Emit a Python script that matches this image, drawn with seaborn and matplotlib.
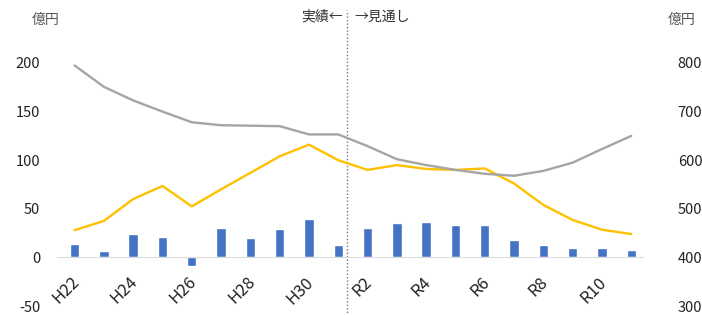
import numpy as np
import pandas as pd
import matplotlib
matplotlib.use("Agg")
import matplotlib.pyplot as plt
import matplotlib.transforms as mtrans
import seaborn as sns

# data
years = ["H22", "H23", "H24", "H25", "H26", "H27", "H28", "H29", "H30", "R1",
         "R2", "R3", "R4", "R5", "R6", "R7", "R8", "R9", "R10", "R11"]
bars = [14, 7, 24, 21.5, -8.5, 30, 20, 29, 39, 12.5,
        30, 35, 36.5, 33, 33, 18, 13, 10, 10, 7.5]
yellow = [28, 37.5, 60, 73.5, 52.5, 70, 87, 104, 116, 100,
          90, 95, 91, 90, 91.5, 76, 54, 38.5, 28.5, 24]
gray_right = [795, 751, 723, 700, 678, 672, 671, 670, 653, 653,
              629, 602, 590, 580, 572, 568, 578, 595, 623, 650]

df = pd.DataFrame({"year": years, "bar": bars, "yellow": yellow, "gray": gray_right})
df["pos"] = np.arange(len(years))

sns.set_style("white")
plt.rcParams["font.family"] = ["Noto Sans CJK JP", "DejaVu Sans"]
plt.rcParams["axes.unicode_minus"] = False

fig = plt.figure(figsize=(7.02, 3.15), dpi=100)
ax = fig.add_axes([57 / 702, 9 / 315, 586 / 702, 243 / 315])
ax2 = ax.twinx()

sns.barplot(data=df, x="year", y="bar", color="#4472C4", width=0.32,
            saturation=1, ax=ax, zorder=2)
sns.lineplot(data=df, x="pos", y="yellow", color="#FFC000", linewidth=1.7,
             sort=False, ax=ax, zorder=3)
sns.lineplot(data=df, x="pos", y="gray", color="#A5A5A5", linewidth=1.7,
             sort=False, ax=ax2, zorder=3)

ax.set_xlim(-0.6, 19.4)
ax.set_ylim(-50, 200)
ax2.set_ylim(300, 800)
ax.set_yticks([-50, 0, 50, 100, 150, 200])
ax2.set_yticks([300, 400, 500, 600, 700, 800])
ax.set_xticks(df["pos"][::2])
ax.set_xticklabels(years[::2])

for a in (ax, ax2):
    for s in a.spines.values():
        s.set_visible(False)
    a.set_xlabel("")
    a.set_ylabel("")
ax.spines["bottom"].set_visible(True)
ax.spines["bottom"].set_position(("data", 0))
ax.spines["bottom"].set_color("#DDDDDD")
ax.tick_params(axis="x", length=0, pad=16, labelsize=12, colors="#222222",
               labelrotation=45)
shift = mtrans.ScaledTranslation(0.02, 0, fig.dpi_scale_trans)
for lab in ax.get_xticklabels():
    lab.set_ha("right")
    lab.set_va("center")
    lab.set_rotation_mode("anchor")
    lab.set_transform(lab.get_transform() + shift)
ax.tick_params(axis="y", length=0, pad=12, labelsize=10.5, colors="#222222")
ax2.tick_params(axis="y", length=0, pad=25, labelsize=10.5, colors="#222222")

# actual / forecast divider
ax.axvline(9.3, ymin=-0.04, ymax=1.22, color="#777777", linestyle=(0, (1, 1.5)),
           linewidth=1, clip_on=False)
ax.text(9.15, 1.19, "実績←", transform=ax.get_xaxis_transform(), ha="right",
        va="center", fontsize=10, color="#333333")
ax.text(9.55, 1.19, "→見通し", transform=ax.get_xaxis_transform(), ha="left",
        va="center", fontsize=10, color="#333333")
fig.text(46 / 702, 1 - 20 / 315, "億円", ha="center", va="center", fontsize=10, color="#555555")
fig.text(682 / 702, 1 - 20 / 315, "億円", ha="center", va="center", fontsize=10, color="#555555")

fig.savefig("out.png", dpi=100)
